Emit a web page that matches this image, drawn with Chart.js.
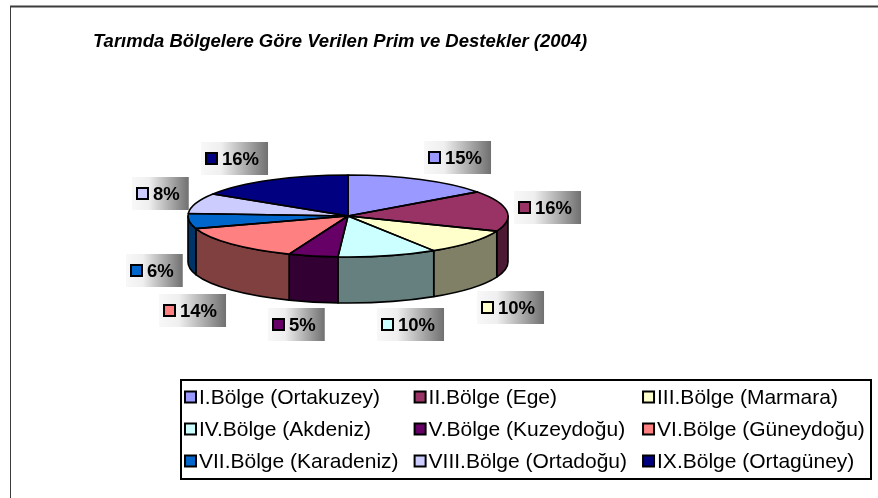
<!DOCTYPE html>
<html>
<head>
<meta charset="utf-8">
<title>Tarımda Bölgelere Göre Verilen Prim ve Destekler (2004)</title>
<script src="https://cdn.jsdelivr.net/npm/chart.js@4.4.1/dist/chart.umd.min.js"></script>
<style>
	html, body { margin: 0; padding: 0; background: #fff; }
	#wrap { width: 878px; height: 498px; }
</style>
</head>
<body>
<div id="wrap"><canvas id="chartPrim" width="878" height="498"></canvas></div>
<script>
var chartTitle = 'Tarımda Bölgelere Göre Verilen Prim ve Destekler (2004)';
var regionLabels = [
	'I.Bölge (Ortakuzey)', 'II.Bölge (Ege)', 'III.Bölge (Marmara)',
	'IV.Bölge (Akdeniz)', 'V.Bölge (Kuzeydoğu)', 'VI.Bölge (Güneydoğu)',
	'VII.Bölge (Karadeniz)', 'VIII.Bölge (Ortadoğu)', 'IX.Bölge (Ortagüney)'
];
var sharePercent = [15, 16, 10, 10, 5, 14, 6, 8, 16];
var sliceColors = ['#9999FF', '#993366', '#FFFFCC', '#CCFFFF', '#660066', '#FF8080', '#0066CC', '#CCCCFF', '#000080'];

// pie geometry (excel 3d look)
var PIE_CX = 348, PIE_CY = 216, PIE_R = 160;
var SQUASH = 41 / 160, DEPTH = 46;
var FONT = '"Liberation Sans", Arial, sans-serif';

function darken(hex) {
	var n = parseInt(hex.slice(1), 16);
	var r = (n >> 16) & 255, g = (n >> 8) & 255, b = n & 255;
	return 'rgb(' + Math.round(r / 2) + ',' + Math.round(g / 2) + ',' + Math.round(b / 2) + ')';
}
function clamp(v) { return Math.max(-1, Math.min(1, v)); }

var framePlugin = {
	id: 'frame',
	beforeDraw: function (chart) {
		var ctx = chart.ctx;
		ctx.save();
		ctx.fillStyle = '#fff';
		ctx.fillRect(0, 0, chart.width, chart.height);
		ctx.fillStyle = '#3c3c3c';
		ctx.fillRect(10, 5.5, chart.width - 10, 2);
		ctx.fillRect(10, 6, 1, chart.height - 6);
		// title
		ctx.fillStyle = '#000';
		ctx.font = 'italic bold 18.5px ' + FONT;
		ctx.textBaseline = 'alphabetic';
		ctx.fillText(chartTitle, 93, 47);
		ctx.restore();
	}
};

var pie3dPlugin = {
	id: 'pie3d',
	beforeDatasetsDraw: function (chart) {
		var ctx = chart.ctx, meta = chart.getDatasetMeta(0);
		ctx.save();
		meta.data.forEach(function (arc, i) {
			var a = arc.outerRadius, b = a * SQUASH;
			var p1 = Math.max(arc.startAngle, 0), p2 = Math.min(arc.endAngle, Math.PI);
			if (p2 <= p1) return;
			ctx.beginPath();
			ctx.ellipse(arc.x, arc.y, a, b, 0, p1, p2, false);
			ctx.lineTo(arc.x + a * Math.cos(p2), arc.y + b * Math.sin(p2) + DEPTH);
			ctx.ellipse(arc.x, arc.y + DEPTH, a, b, 0, p2, p1, true);
			ctx.closePath();
			ctx.fillStyle = darken(sliceColors[i]);
			ctx.fill();
			ctx.lineWidth = 1.6;
			ctx.strokeStyle = '#000';
			ctx.lineJoin = 'round';
			ctx.stroke();
		});
		ctx.restore();
		var c = meta.data[0];
		ctx.save();
		ctx.translate(c.x, c.y);
		ctx.scale(1, SQUASH);
		ctx.translate(-c.x, -c.y);
	},
	afterDatasetsDraw: function (chart) {
		var ctx = chart.ctx, meta = chart.getDatasetMeta(0);
		ctx.restore();
		ctx.save();
		ctx.lineWidth = 1.6;
		ctx.strokeStyle = '#000';
		ctx.lineJoin = 'round';
		meta.data.forEach(function (arc) {
			var a = arc.outerRadius, b = a * SQUASH;
			ctx.beginPath();
			ctx.moveTo(arc.x, arc.y);
			ctx.ellipse(arc.x, arc.y, a, b, 0, arc.startAngle, arc.endAngle, false);
			ctx.closePath();
			ctx.stroke();
		});
		ctx.restore();
	}
};

var labelPlugin = {
	id: 'pctLabels',
	afterDraw: function (chart) {
		var ctx = chart.ctx, meta = chart.getDatasetMeta(0);
		var data = chart.data.datasets[0].data;
		var total = data.reduce(function (s, v) { return s + v; }, 0);
		ctx.save();
		ctx.font = 'bold 18.5px ' + FONT;
		ctx.textBaseline = 'middle';
		meta.data.forEach(function (arc, i) {
			var mid = (arc.startAngle + arc.endAngle) / 2;
			var s = Math.cos(mid), c = -Math.sin(mid);
			var a = arc.outerRadius, b = a * SQUASH;
			var txt = Math.round(data[i] / total * 100) + '%';
			var tw = ctx.measureText(txt).width;
			var w = tw + 30, h = 33;
			var bx = arc.x + (a + 7) * s + w / 2 * clamp(2.5 * s);
			var by = arc.y - (b + 6) * c + (c < 0 ? DEPTH * Math.min(1, -10 * c) : 0) + h / 2 * clamp(-1.5 * c);
			var x0 = Math.round(bx - w / 2), y0 = Math.round(by - h / 2);
			var grad = ctx.createLinearGradient(x0, 0, x0 + w, 0);
			grad.addColorStop(0, '#f8f8f8');
			grad.addColorStop(0.3, '#efefef');
			grad.addColorStop(1, '#707070');
			ctx.fillStyle = grad;
			ctx.fillRect(x0, y0, w, h);
			var ky = Math.round(y0 + h / 2 - 5.5);
			ctx.fillStyle = sliceColors[i];
			ctx.fillRect(x0 + 5, ky, 11, 11);
			ctx.lineWidth = 2;
			ctx.strokeStyle = '#000';
			ctx.strokeRect(x0 + 5, ky, 11, 11);
			ctx.fillStyle = '#000';
			ctx.fillText(txt, x0 + 21, y0 + h / 2 + 1);
		});
		ctx.restore();
	}
};

var legendPlugin = {
	id: 'boxLegend',
	afterDraw: function (chart) {
		var ctx = chart.ctx;
		var labels = chart.data.labels;
		ctx.save();
		ctx.lineWidth = 2;
		ctx.strokeStyle = '#000';
		ctx.strokeRect(181, 380, 690, 99);
		ctx.font = '21px ' + FONT;
		ctx.textBaseline = 'middle';
		var cols = 3, colX = [], x = 185;
		for (var j = 0; j < cols; j++) {
			var maxW = 0;
			for (var i = j; i < labels.length; i += cols) {
				maxW = Math.max(maxW, ctx.measureText(labels[i]).width);
			}
			colX.push(x);
			x += 14 + maxW + 16;
		}
		labels.forEach(function (lbl, i) {
			var kx = colX[i % cols], y = 397 + Math.floor(i / cols) * 32;
			ctx.fillStyle = sliceColors[i];
			ctx.fillRect(kx, y - 5.5, 11, 11);
			ctx.lineWidth = 2;
			ctx.strokeStyle = '#000';
			ctx.strokeRect(kx, y - 5.5, 11, 11);
			ctx.fillStyle = '#000';
			ctx.fillText(lbl, kx + 14, y + 1);
		});
		ctx.restore();
	}
};

new Chart(document.getElementById('chartPrim'), {
	type: 'pie',
	data: {
		labels: regionLabels,
		datasets: [{
			data: sharePercent,
			backgroundColor: sliceColors,
			borderWidth: 0
		}]
	},
	options: {
		responsive: false,
		animation: false,
		events: [],
		layout: {
			padding: {
				left: PIE_CX - PIE_R,
				right: 878 - (PIE_CX + PIE_R),
				top: PIE_CY - PIE_R,
				bottom: 498 - (PIE_CY + PIE_R)
			}
		},
		plugins: {
			legend: { display: false },
			tooltip: { enabled: false },
			title: { display: false }
		}
	},
	plugins: [framePlugin, pie3dPlugin, labelPlugin, legendPlugin]
});
</script>
</body>
</html>
